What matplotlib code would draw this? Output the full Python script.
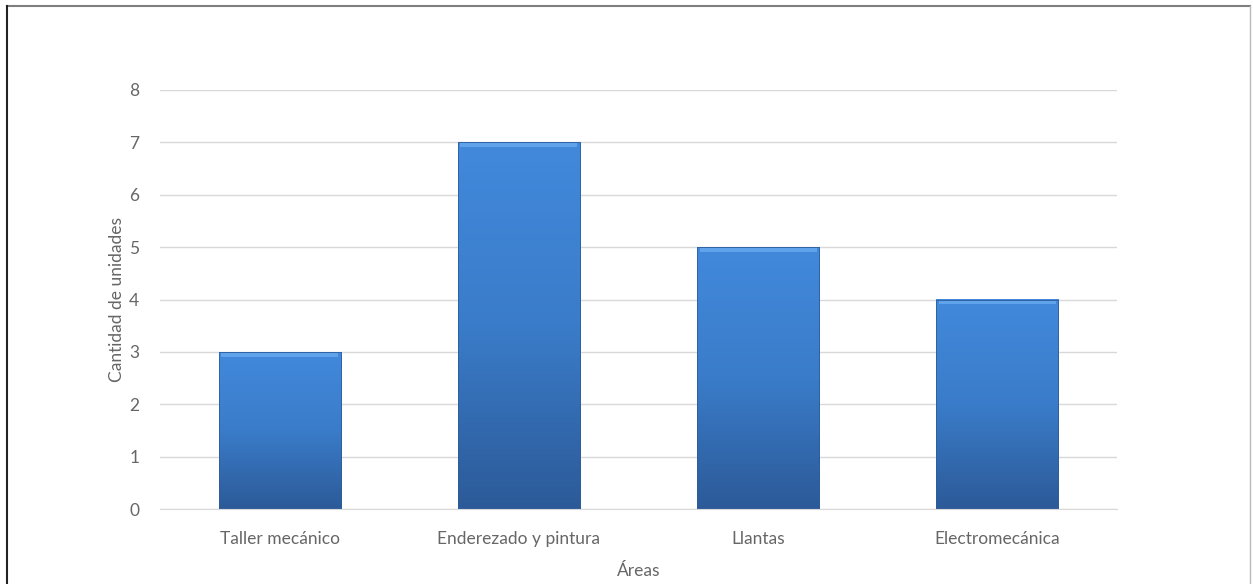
import matplotlib.pyplot as plt
import numpy as np
from matplotlib.lines import Line2D
from matplotlib.colors import LinearSegmentedColormap

areas = ['Taller mecánico', 'Enderezado y pintura', 'Llantas', 'Electromecánica']
unidades = [3, 7, 5, 4]

plt.rcParams['font.family'] = ['Lato', 'DejaVu Sans']

fig = plt.figure(figsize=(12.53, 5.84), dpi=100)
ax = fig.add_axes([160 / 1253, 75 / 584, 957 / 1253, 419 / 584])

x = np.arange(len(areas))
width = 0.51
bars = ax.bar(x, unidades, width, color='none', edgecolor='#2d5d9a', linewidth=0.6, zorder=3)

# degradado vertical en cada barra
cmap = LinearSegmentedColormap.from_list('azul', ['#2c5a98', '#3a7cc9', '#4289dc'])
grad = np.linspace(0, 1, 256).reshape(-1, 1)
for b in bars:
    x0, w, h = b.get_x(), b.get_width(), b.get_height()
    im = ax.imshow(grad, extent=[x0, x0 + w, 0, h], origin='lower', cmap=cmap,
                   aspect='auto', zorder=2)
    im.set_clip_path(b)
    # brillo superior
    ax.fill_between([x0 + 0.01, x0 + w - 0.01], h - 0.09, h - 0.02,
                    color='#6aaaf0', alpha=0.8, zorder=4, linewidth=0)

ax.set_xlim(-0.5, len(areas) - 0.5)
ax.set_ylim(0, 8)
ax.set_yticks(range(0, 9))
ax.set_xticks(x)
ax.set_xticklabels(areas, fontsize=12.5, color='#666666')
ax.tick_params(axis='y', labelsize=12.5, colors='#666666', length=0, pad=15)
ax.tick_params(axis='x', length=0, pad=16)
ax.grid(axis='y', color='#d9d9d9', linewidth=1, zorder=0)
for s in ['top', 'right', 'left']:
    ax.spines[s].set_visible(False)
ax.spines['bottom'].set_color('#d9d9d9')

ax.set_ylabel('Cantidad de unidades', fontsize=12.5, color='#666666', labelpad=3)
ax.set_xlabel('Áreas', fontsize=12.5, color='#666666', labelpad=11)

# marco de la imagen
fig.add_artist(Line2D([7 / 1253, 1250 / 1253], [1 - 6 / 584, 1 - 6 / 584], color='#7f7f7f', lw=1.5))
fig.add_artist(Line2D([7 / 1253, 7 / 1253], [0, 1 - 6 / 584], color='#222222', lw=1.5))
fig.add_artist(Line2D([1250 / 1253, 1250 / 1253], [0, 1 - 6 / 584], color='#bbbbbb', lw=1))

fig.savefig('out.png', dpi=100)
